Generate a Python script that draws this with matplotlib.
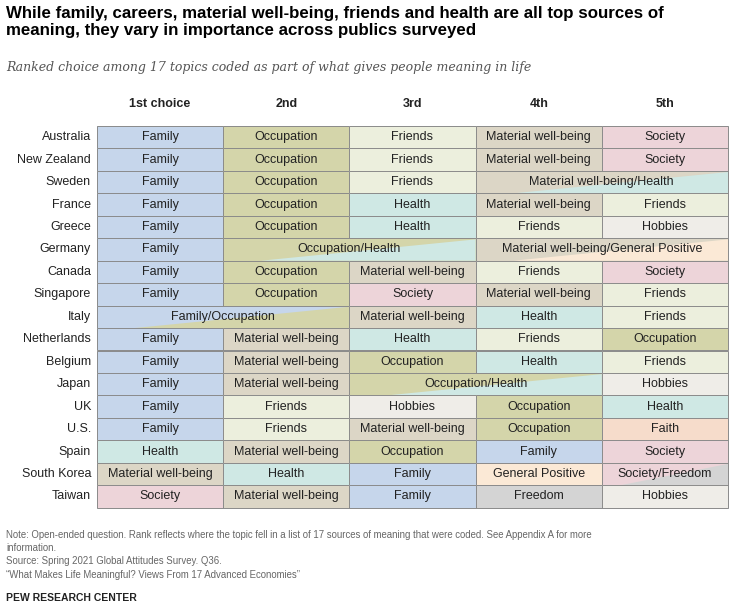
import matplotlib.pyplot as plt
from matplotlib.patches import Rectangle, Polygon

countries = ["Australia", "New Zealand", "Sweden", "France", "Greece", "Germany", "Canada",
             "Singapore", "Italy", "Netherlands", "Belgium", "Japan", "UK", "U.S.", "Spain",
             "South Korea", "Taiwan"]
headers = ["1st choice", "2nd", "3rd", "4th", "5th"]

# each row: list of (label, number of columns spanned)
ranks = [
    [("Family", 1), ("Occupation", 1), ("Friends", 1), ("Material well-being", 1), ("Society", 1)],
    [("Family", 1), ("Occupation", 1), ("Friends", 1), ("Material well-being", 1), ("Society", 1)],
    [("Family", 1), ("Occupation", 1), ("Friends", 1), ("Material well-being/Health", 2)],
    [("Family", 1), ("Occupation", 1), ("Health", 1), ("Material well-being", 1), ("Friends", 1)],
    [("Family", 1), ("Occupation", 1), ("Health", 1), ("Friends", 1), ("Hobbies", 1)],
    [("Family", 1), ("Occupation/Health", 2), ("Material well-being/General Positive", 2)],
    [("Family", 1), ("Occupation", 1), ("Material well-being", 1), ("Friends", 1), ("Society", 1)],
    [("Family", 1), ("Occupation", 1), ("Society", 1), ("Material well-being", 1), ("Friends", 1)],
    [("Family/Occupation", 2), ("Material well-being", 1), ("Health", 1), ("Friends", 1)],
    [("Family", 1), ("Material well-being", 1), ("Health", 1), ("Friends", 1), ("Occupation", 1)],
    [("Family", 1), ("Material well-being", 1), ("Occupation", 1), ("Health", 1), ("Friends", 1)],
    [("Family", 1), ("Material well-being", 1), ("Occupation/Health", 2), ("Hobbies", 1)],
    [("Family", 1), ("Friends", 1), ("Hobbies", 1), ("Occupation", 1), ("Health", 1)],
    [("Family", 1), ("Friends", 1), ("Material well-being", 1), ("Occupation", 1), ("Faith", 1)],
    [("Health", 1), ("Material well-being", 1), ("Occupation", 1), ("Family", 1), ("Society", 1)],
    [("Material well-being", 1), ("Health", 1), ("Family", 1), ("General Positive", 1), ("Society/Freedom", 1)],
    [("Society", 1), ("Material well-being", 1), ("Family", 1), ("Freedom", 1), ("Hobbies", 1)],
]

colors = {
    "Family": "#c6d6eb", "Occupation": "#d4d5aa", "Friends": "#ecefdd",
    "Material well-being": "#dcd6c6", "Society": "#edd4d9", "Health": "#cfe8e4",
    "Hobbies": "#efede8", "General Positive": "#fbe9d6", "Faith": "#f6dccb",
    "Freedom": "#d4d4d4",
}

fig = plt.figure(figsize=(7.4, 6.13), dpi=100)
ax = fig.add_axes([0, 0, 1, 1])
ax.set_xlim(0, 740)
ax.set_ylim(613, 0)
ax.axis("off")

x0, cw = 97, 126.2
y0, rh = 126, 22.45
cell_font = dict(family="Liberation Sans", size=9, color="#222222", ha="center", va="center")

ax.text(6, 6, "While family, careers, material well-being, friends and health are all top sources of\n"
        "meaning, they vary in importance across publics surveyed",
        fontsize=12.2, fontweight="bold", family="Liberation Sans", va="top", ha="left",
        linespacing=1.2)
ax.text(6, 68, "Ranked choice among 17 topics coded as part of what gives people meaning in life",
        fontsize=9, style="italic", family="DejaVu Serif", color="#555555", va="center")

for j, h in enumerate(headers):
    ax.text(x0 + cw * (j + 0.5), 104, h, fontweight="bold", **cell_font)

for i, (country, row) in enumerate(zip(countries, ranks)):
    y = y0 + i * rh
    ax.text(x0 - 6, y + rh / 2, country, family="Liberation Sans", size=9,
            color="#222222", ha="right", va="center")
    col = 0
    for label, span in row:
        x = x0 + col * cw
        w = cw * span
        parts = label.split("/")
        c1 = colors[parts[0]]
        ax.add_patch(Rectangle((x, y), w, rh, facecolor=c1, edgecolor="none"))
        if len(parts) == 2:
            c2 = colors[parts[1]]
            ax.add_patch(Polygon([(x + w * 0.15, y + rh), (x + w, y + rh * 0.05), (x + w, y + rh)],
                                 closed=True, facecolor=c2, edgecolor="none"))
        ax.add_patch(Rectangle((x, y), w, rh, facecolor="none", edgecolor="#8a8a8a", lw=0.7))
        ax.text(x + w / 2, y + rh / 2, label, **cell_font)
        col += span

ax.text(6, 530, "Note: Open-ended question. Rank reflects where the topic fell in a list of 17 sources of meaning that were coded. See Appendix A for more\n"
        "information.\nSource: Spring 2021 Global Attitudes Survey. Q36.\n"
        "\u201cWhat Makes Life Meaningful? Views From 17 Advanced Economies\u201d",
        fontsize=6.9, family="Liberation Sans", color="#666666", va="top", ha="left", linespacing=1.4)
ax.text(6, 598, "PEW RESEARCH CENTER", fontsize=7.5, family="Liberation Sans", fontweight="bold",
        color="#222222", va="center")

fig.savefig("out.png", dpi=100)
